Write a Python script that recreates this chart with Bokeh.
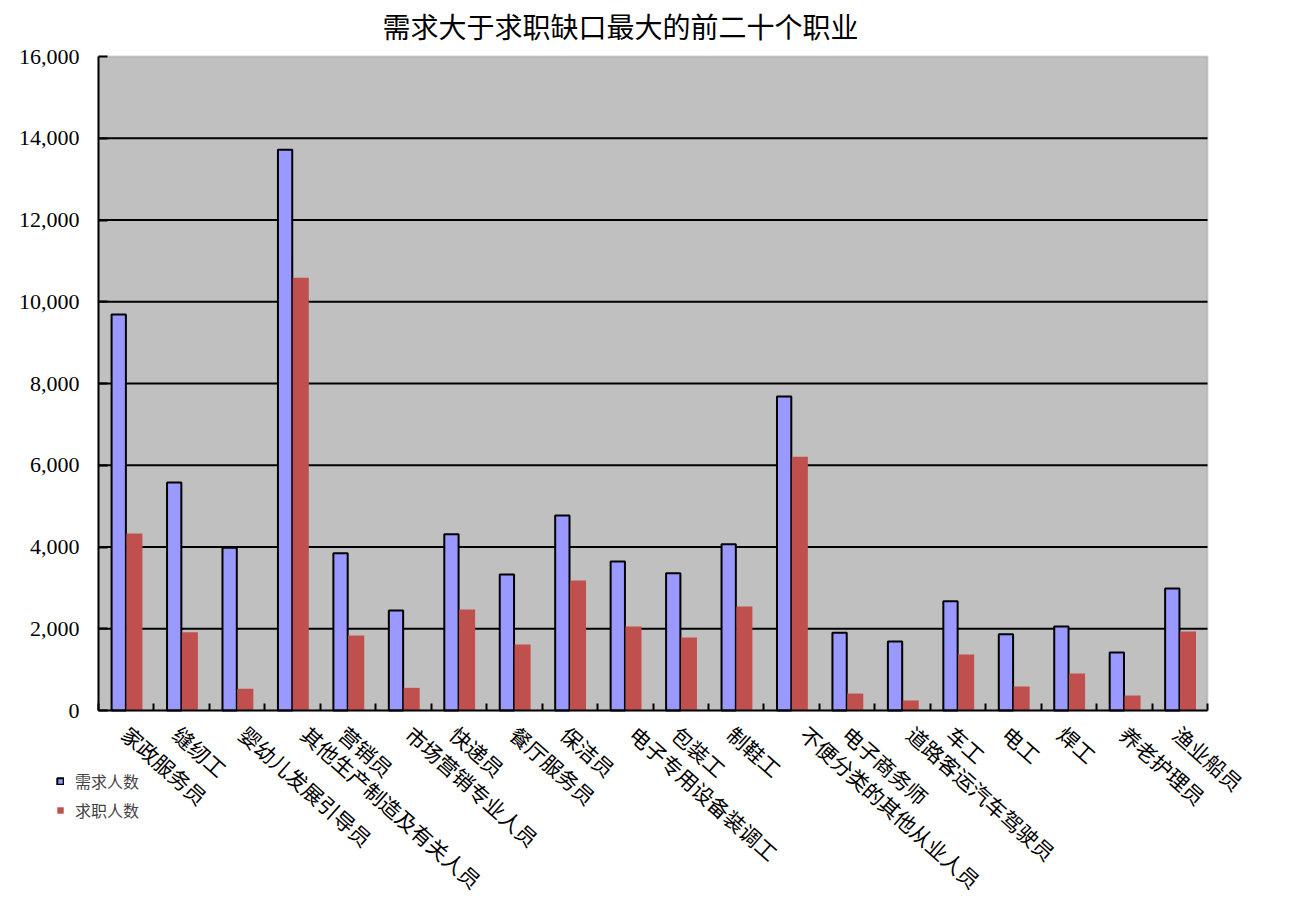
import math
import numpy as np
from bokeh.plotting import figure
from bokeh.models import (ColumnDataSource, FixedTicker, NumeralTickFormatter,
                          Range1d, Legend, LegendItem, BoxAnnotation, Label)
from bokeh.core.properties import value
from bokeh.embed import file_html
from bokeh.resources import INLINE

title_text = "需求大于求职缺口最大的前二十个职业"
categories = ["家政服务员", "缝纫工", "婴幼儿发展引导员", "其他生产制造及有关人员", "营销员",
              "市场营销专业人员", "快递员", "餐厅服务员", "保洁员", "电子专用设备装调工",
              "包装工", "制鞋工", "不便分类的其他从业人员", "电子商务师", "道路客运汽车驾驶员",
              "车工", "电工", "焊工", "养老护理员", "渔业船员"]
demand = [9690, 5580, 3980, 13720, 3850, 2445, 4310, 3330, 4770, 3645,
          3360, 4070, 7680, 1905, 1690, 2670, 1865, 2055, 1420, 2985]
seekers = [4330, 1915, 530, 10590, 1835, 555, 2470, 1615, 3180, 2055,
           1785, 2545, 6210, 415, 245, 1370, 587, 905, 367, 1932]
series_names = ["需求人数", "求职人数"]
y_ticks = [0, 2000, 4000, 6000, 8000, 10000, 12000, 14000, 16000]

# ---- layout constants (pixels) ----
W, H = 1288, 898
PL, PR, PT, PB = 98, 1207, 56, 710          # plot-area edges on the canvas
n = len(categories)
ymax = y_ticks[-1]
ppx = (PR - PL) / n                          # px per category
ppy = (PB - PT) / ymax                       # px per unit
x_range = Range1d(-PL / ppx, n + (W - PR) / ppx)
y_range = Range1d(-(H - PB) / ppy, ymax + PT / ppy)

centers = np.arange(n) + 0.5
lab_angle = -0.725
lab_size = 21
lens = np.array([len(c) for c in categories])
src = ColumnDataSource(dict(
    xb=centers - 0.135, xr=centers + 0.148, xc=centers,
    demand=demand, seekers=seekers, cat=categories,
    xoff=2.2 * lens - 4 - (lab_size / 2) * math.cos(lab_angle),
))

p = figure(width=W, height=H, output_backend="svg", toolbar_location=None,
           x_range=x_range, y_range=y_range, min_border=0,
           min_border_left=0, min_border_right=0, min_border_top=0, min_border_bottom=0)
p.background_fill_color = "white"
p.border_fill_color = "white"
p.outline_line_color = None

# plot area
p.add_layout(BoxAnnotation(left=0, right=n, bottom=0, top=ymax,
                           fill_color="#C0C0C0", fill_alpha=1.0,
                           line_color="#808080", line_width=2, level="underlay"))

# gridlines
grid_y = [t for t in y_ticks if 0 < t < ymax]
p.segment(x0=[0] * len(grid_y), x1=[n] * len(grid_y), y0=grid_y, y1=grid_y,
          line_color="black", line_width=2)

rb = p.vbar(x="xb", top="demand", width=0.258, source=src,
            fill_color="#9999FF", line_color="black", line_width=2)
rr = p.vbar(x="xr", top="seekers", width=0.289, source=src,
            fill_color="#C0504D", line_color=None)

p.xgrid.grid_line_color = None
p.ygrid.grid_line_color = None

# y axis
yax = p.yaxis[0]
yax.fixed_location = 0
yax.bounds = (0, ymax)
yax.ticker = FixedTicker(ticks=y_ticks)
yax.formatter = NumeralTickFormatter(format="0,0")
yax.major_label_text_font = "Liberation Serif"
yax.major_label_text_font_size = "22px"
yax.major_label_text_color = "black"
yax.major_tick_in = 9
yax.major_tick_out = 0
yax.major_tick_line_width = 2
yax.major_tick_line_color = "black"
yax.minor_tick_line_color = None
yax.axis_line_width = 2
yax.axis_line_color = "black"
yax.major_label_standoff = 19

# x axis (ticks at category boundaries)
xax = p.xaxis[0]
xax.fixed_location = 0
xax.bounds = (0, n)
xax.ticker = FixedTicker(ticks=[], minor_ticks=list(np.arange(n + 1)))
xax.major_tick_line_color = None
xax.minor_tick_in = 7
xax.minor_tick_out = 0
xax.minor_tick_line_width = 2
xax.minor_tick_line_color = "black"
xax.axis_line_width = 2
xax.axis_line_color = "black"

# category labels, rotated
p.text(x="xc", y=0, text="cat", source=src, angle=lab_angle,
       x_offset="xoff", y_offset=20,
       text_align="left", text_baseline="middle",
       text_font=value("Noto Sans CJK SC"), text_font_size=f"{lab_size}px",
       text_color="black")

# title
p.add_layout(Label(x=620, y=H - 25, x_units="screen", y_units="screen",
                   text=title_text, text_align="center", text_baseline="middle",
                   text_font="Noto Sans CJK SC", text_font_size="28px",
                   text_color="black"))

legend = Legend(items=[LegendItem(label=series_names[0], renderers=[rb]),
                       LegendItem(label=series_names[1], renderers=[rr])],
                location=(56, 68 + (H - 890)), margin=0, padding=0, spacing=5,
                glyph_width=8, glyph_height=8, label_height=20,
                label_standoff=11, border_line_color=None,
                background_fill_alpha=0,
                label_text_font="Noto Sans CJK SC", label_text_font_size="16px")
p.add_layout(legend)

open("out.html", "w").write(file_html(p, INLINE))
